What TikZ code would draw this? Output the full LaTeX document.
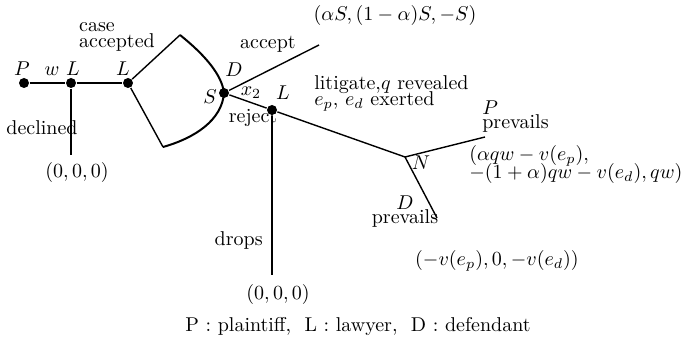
\documentclass[tikz,border=0pt]{standalone}
\usepackage{amsmath,amssymb}
\begin{document}
\begin{tikzpicture}[x=0.5pt,y=-0.5pt,line width=0.7pt,
		vertex/.style={circle,fill,inner sep=0pt,minimum size=5pt}]
			\useasboundingbox (0,0) rectangle (691,341);
			% players
			\node[vertex] (P) at (24,83) {};
			\node[vertex] (L1) at (71,83) {};
			\node[vertex] (L2) at (128,83) {};
			\node[vertex] (S) at (224,93) {};
			\node[vertex] (L3) at (272,110) {};
			\coordinate (N) at (405,157);
			\coordinate (Dec) at (71,155);
			\coordinate (Up) at (180,35);
			\coordinate (Lo) at (163,147);
			\coordinate (Acc) at (319,45);
			\coordinate (Drop) at (272,275);
			\coordinate (Pwin) at (485,137);
			\coordinate (Dwin) at (437,218);
			\draw (P) -- (L1) -- (L2);
			\draw (L1) -- (Dec);
			\draw (Up) -- (L2) -- (Lo);
			\draw[line width=1pt] (Up) .. controls (205,55) and (222,75) .. (S.center)
				.. controls (222,120) and (195,138) .. (Lo);
			\draw (S) -- (Acc);
			\draw (S) -- (L3) -- (N);
			\draw (L3) -- (Drop);
			\draw (N) -- (Pwin) (N) -- (Dwin);
			% labels
			\node (tP) at (22,69) {$P$};
			\node (tw) at (52,71) {$w$};
			\node (tL1) at (73,69) {$L$};
			\node (tL2) at (123,69) {$L$};
			\node[align=left] (tcase) at (117,37) {case\\[-4pt]accepted};
			\node (tdecl) at (42,128) {declined};
			\node (o1) at (77,173) {$(0,0,0)$};
			\node (tD) at (234,70) {$D$};
			\node (tS) at (210,97) {$S$};
			\node (tx) at (251,93) {$x_2$};
			\node (tacc) at (268,44) {accept};
			\node (oacc) at (395,16) {$(\alpha S,(1-\alpha)S,-S)$};
			\node (trej) at (253,118) {reject};
			\node (tL3) at (283,93) {$L$};
			\node[anchor=east] (tdrop) at (270,241) {drops};
			\node (o2) at (278,295) {$(0,0,0)$};
			\node[align=left,anchor=west] (tlit) at (307,93) {litigate,$q$ revealed\\[-4pt]$e_p$, $e_d$ exerted};
			\node (tN) at (421,163) {$N$};
			\node[align=left,anchor=west] (tPp) at (475,117) {$P$\\[-5pt]prevails};
			\node[align=left,anchor=west] (oP) at (462,165) {$(\alpha qw-v(e_p),$\\[-3pt]$-(1+\alpha)qw-v(e_d),qw)$};
			\node[align=center] (tDp) at (405,212) {$D$\\[-5pt]prevails};
			\node (oD) at (497,261) {$(-v(e_p),0,-v(e_d))$};
			\node (key) at (358,327) {P : plaintiff,~\ L : lawyer,~\ D : defendant};
		\end{tikzpicture}
\end{document}
